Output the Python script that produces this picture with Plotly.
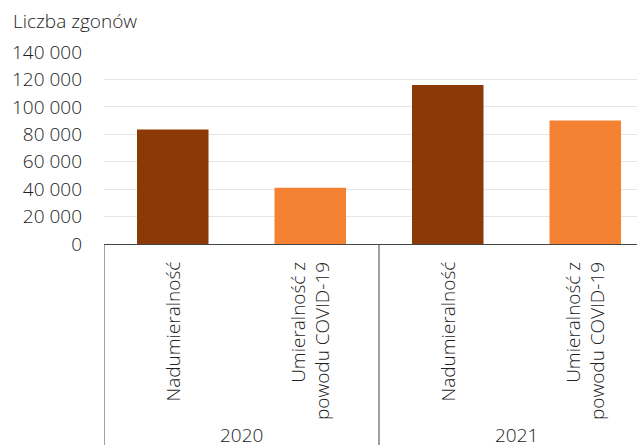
import plotly.graph_objects as go

years = ["2020", "2021"]
measures = ["Nadumieralność", "Umieralność z<br>powodu COVID-19"]
values = [83500, 41000, 116000, 90000]
colors = ["#8B3A07", "#F58233", "#8B3A07", "#F58233"]
y_title = "Liczba zgonów"
y_ticks = [0, 20000, 40000, 60000, 80000, 100000, 120000, 140000]

cats = [f"{y}|{m}" for y in years for m in measures]
labels = [m for y in years for m in measures]

W, H = 637, 445
ml, mt, mb = 104, 52, 201
font = "Open Sans"
fc = "#222222"
fs = 19

fig = go.Figure(go.Bar(x=cats, y=values, marker=dict(color=colors, line=dict(width=0)),
                       width=0.52))

annotations = []
for c, lab in zip(cats, labels):
    annotations.append(dict(x=c, xref="x", y=-0.082, yref="paper", text=lab,
                            textangle=-90, xanchor="center", yanchor="top",
                            align="right", showarrow=False,
                            font=dict(family=font, size=fs, color=fc, weight=300)))
for i, y in enumerate(years):
    annotations.append(dict(x=2 * i + 0.5, xref="x", y=-0.995, yref="paper", text=y,
                            xanchor="center", yanchor="middle", showarrow=False,
                            font=dict(family=font, size=fs, color=fc, weight=300)))

shapes = []
for i in range(len(years)):
    shapes.append(dict(type="line", xref="x", yref="paper", x0=2 * i - 0.5, x1=2 * i - 0.5,
                       y0=0, y1=-1.1, line=dict(color="#444444", width=1)))

fig.update_layout(
    width=W, height=H,
    margin=dict(l=ml, r=0, t=mt, b=mb),
    paper_bgcolor="white", plot_bgcolor="white",
    separators=", ",
    showlegend=False,
    title=dict(text=y_title, x=13 / W, xanchor="left", xref="container",
               y=1 - 21 / H, yanchor="middle", yref="container",
               font=dict(family=font, size=fs, color=fc, weight=300)),
    xaxis=dict(type="category", range=[-0.5, -0.5 + (W - ml) / 137.5],
               showticklabels=False, showgrid=False, ticks="",
               showline=True, linecolor="#444444", linewidth=1),
    yaxis=dict(range=[0, 140000], tickvals=y_ticks, tickformat=",d",
               showgrid=True, gridcolor="#e6e6e6", gridwidth=1,
               zeroline=False, showline=False, ticks="",
               ticklabelstandoff=21,
               tickfont=dict(family=font, size=fs, color=fc, weight=300)),
    annotations=annotations, shapes=shapes,
    font=dict(family=font, color=fc),
)

fig.write_html("out.html")
